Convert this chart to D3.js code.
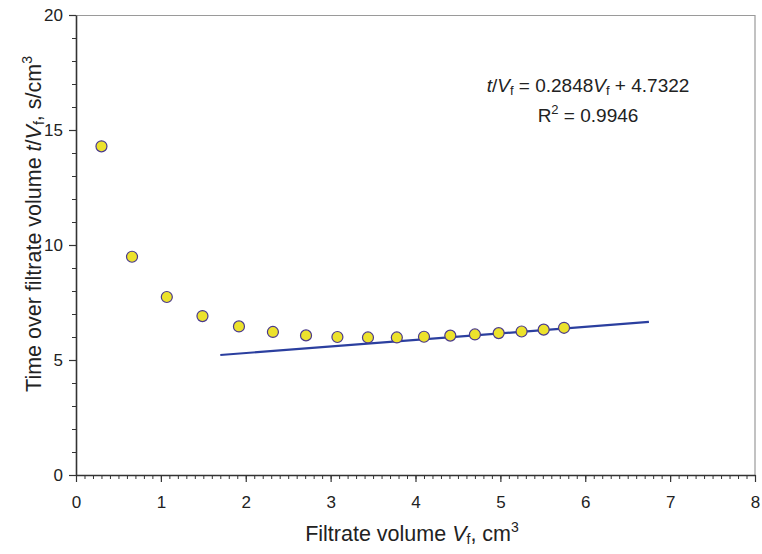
<!DOCTYPE html>
<html>
<head>
<meta charset="utf-8">
<script src="https://cdn.jsdelivr.net/npm/d3@7"></script>
<style>
  body { margin: 0; background: #fff; }
  text { font-family: "Liberation Sans", Arial, Helvetica, sans-serif; fill: #222; }
</style>
</head>
<body>
<div id="wrapper"></div>
<script>
// filtrate volume (cm3) and t/Vf (s/cm3)
const volumes = [0.30, 0.66, 1.07, 1.49, 1.92, 2.32, 2.71, 3.08, 3.44, 3.78, 4.10, 4.41, 4.70, 4.98, 5.25, 5.51, 5.75];
const ratios  = [14.29, 9.49, 7.74, 6.91, 6.46, 6.22, 6.07, 6.00, 5.98, 5.98, 6.01, 6.06, 6.11, 6.17, 6.24, 6.32, 6.40];

// linear trend line
const slope = 0.2848;
const intercept = 4.7322;
const fitRange = [1.7, 6.75];
const rSquared = "0.9946";

const xTicks = [0, 1, 2, 3, 4, 5, 6, 7, 8];
const yTicks = [0, 5, 10, 15, 20];

const dimension = {
    width: 762,
    height: 554,
    margin: { top: 15, left: 76, bottom: 79, right: 7 }
};
dimension.boundedWidth = dimension.width - dimension.margin.left - dimension.margin.right;
dimension.boundedHeight = dimension.height - dimension.margin.top - dimension.margin.bottom;

const svg = d3.select("#wrapper").append("svg")
    .attr("width", dimension.width)
    .attr("height", dimension.height);

const bounded = svg.append("g")
    .attr("transform", `translate(${dimension.margin.left},${dimension.margin.top})`);

const xScaler = d3.scaleLinear().domain([0, 8]).range([0, dimension.boundedWidth]);
const yScaler = d3.scaleLinear().domain([0, 20]).range([dimension.boundedHeight, 0]);

// light frame on top and right
bounded.append("path")
    .attr("d", `M0,0.5H${xScaler(8)}V${yScaler(0)}`)
    .attr("fill", "none")
    .attr("stroke", "#9a9a9a")
    .attr("stroke-width", 1.2);

// minor ticks
bounded.append("g")
    .attr("transform", `translate(0,${dimension.boundedHeight})`)
    .call(d3.axisBottom(xScaler).tickValues(d3.range(0, 81).map(d => d / 10)).tickSize(4).tickFormat(""))
    .call(g => g.select(".domain").remove())
    .call(g => g.selectAll("line").attr("stroke", "#333"));
bounded.append("g")
    .call(d3.axisLeft(yScaler).tickValues(d3.range(0, 21)).tickSize(4).tickFormat(""))
    .call(g => g.select(".domain").remove())
    .call(g => g.selectAll("line").attr("stroke", "#333"));

// major axes
const xAxis = bounded.append("g")
    .attr("transform", `translate(0,${dimension.boundedHeight})`)
    .call(d3.axisBottom(xScaler).tickValues(xTicks).tickSizeInner(7).tickSizeOuter(0).tickPadding(14));
const yAxis = bounded.append("g")
    .call(d3.axisLeft(yScaler).tickValues(yTicks).tickSizeInner(7).tickSizeOuter(0).tickPadding(6));

[xAxis, yAxis].forEach(a => {
    a.select(".domain").attr("stroke", "#333").attr("stroke-width", 1.6);
    a.selectAll("line").attr("stroke", "#333").attr("stroke-width", 1.2);
    a.selectAll("text").attr("font-size", 17).attr("fill", "#222")
        .attr("font-family", "'Liberation Sans', Arial, sans-serif");
});

// trend line
const lineGenerator = d3.line()
    .x(d => xScaler(d))
    .y(d => yScaler(slope * d + intercept));
bounded.append("path")
    .datum(fitRange)
    .attr("d", lineGenerator)
    .attr("fill", "none")
    .attr("stroke", "#2b3f9f")
    .attr("stroke-width", 2.2);

// data points
bounded.selectAll("circle")
    .data(volumes.map((v, i) => ({ x: v, y: ratios[i] })))
    .join("circle")
    .attr("cx", d => xScaler(d.x))
    .attr("cy", d => yScaler(d.y))
    .attr("r", 5.5)
    .attr("fill", "#ece22c")
    .attr("stroke", "#4a3a8c")
    .attr("stroke-width", 1.2);

// equation
const eq = svg.append("text")
    .attr("x", 588).attr("y", 92)
    .attr("text-anchor", "middle")
    .attr("font-size", 19);
eq.append("tspan").attr("font-style", "italic").text("t");
eq.append("tspan").text("/");
eq.append("tspan").attr("font-style", "italic").text("V");
eq.append("tspan").attr("font-size", 13).attr("dy", 3).text("f");
eq.append("tspan").attr("dy", -3).text(` = ${slope}`);
eq.append("tspan").attr("font-style", "italic").text("V");
eq.append("tspan").attr("font-size", 13).attr("dy", 3).text("f");
eq.append("tspan").attr("dy", -3).text(` + ${intercept}`);

const r2 = svg.append("text")
    .attr("x", 588).attr("y", 122)
    .attr("text-anchor", "middle")
    .attr("font-size", 19);
r2.append("tspan").text("R");
r2.append("tspan").attr("font-size", 13).attr("dy", -8).text("2");
r2.append("tspan").attr("dy", 8).text(` = ${rSquared}`);

// axis titles
const xLabel = svg.append("text")
    .attr("x", 412).attr("y", 541)
    .attr("text-anchor", "middle")
    .attr("font-size", 21.5);
xLabel.append("tspan").text("Filtrate volume ");
xLabel.append("tspan").attr("font-style", "italic").text("V");
xLabel.append("tspan").attr("font-size", 14).attr("dy", 3).text("f");
xLabel.append("tspan").attr("dy", -3).text(", cm");
xLabel.append("tspan").attr("font-size", 14).attr("dy", -9).text("3");

const yLabel = svg.append("text")
    .attr("transform", "translate(41,224) rotate(-90)")
    .attr("text-anchor", "middle")
    .attr("font-size", 21.5);
yLabel.append("tspan").text("Time over filtrate volume ");
yLabel.append("tspan").attr("font-style", "italic").text("t");
yLabel.append("tspan").text("/");
yLabel.append("tspan").attr("font-style", "italic").text("V");
yLabel.append("tspan").attr("font-size", 14).attr("dy", 3).text("f");
yLabel.append("tspan").attr("dy", -3).text(", s/cm");
yLabel.append("tspan").attr("font-size", 14).attr("dy", -9).text("3");
</script>
</body>
</html>
